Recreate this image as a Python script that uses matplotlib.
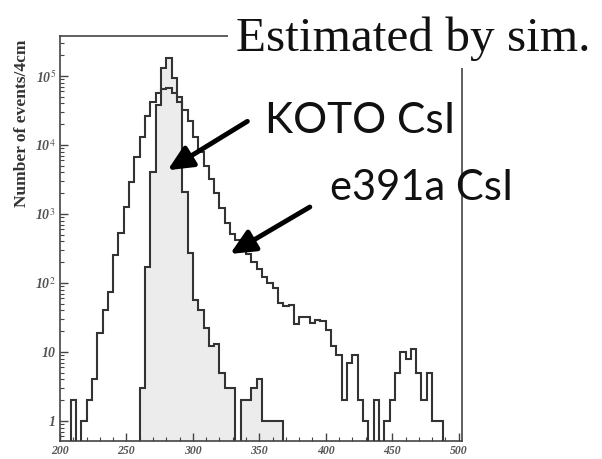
import numpy as np
import matplotlib
matplotlib.use("Agg")
import matplotlib.pyplot as plt
from matplotlib.patches import Rectangle
from matplotlib.ticker import FixedLocator, MultipleLocator, LogLocator, NullFormatter

# bin edges: 4 cm bins from 200 to 500
bin_width = 4
bin_edges = np.arange(200, 500 + bin_width, bin_width)

# e391a CsI (open histogram), counts per bin starting at 200
e391a_counts = [
    0, 0, 2, 0, 1, 2, 4, 19, 40, 75,
    250, 530, 1280, 2900, 6600, 13000, 26000, 42000, 56000, 64000,
    66000, 56000, 42000, 32000, 22000, 13000, 8000, 5000, 3200, 2000,
    1200, 740, 520, 420, 320, 260, 200, 160, 120, 100,
    83, 51, 46, 48, 25, 32, 32, 26, 29, 28,
    21, 12, 9, 2, 7, 9, 2, 1, 0, 2,
    0, 1, 2, 5, 10, 8, 11, 5, 2, 5,
    1, 1, 0, 0, 0,
]

# KOTO CsI (shaded histogram)
koto_counts = [
    0, 0, 0, 0, 0, 0, 0, 0, 0, 0,
    0, 0, 0, 0, 0, 3, 170, 4000, 38000, 130000,
    185000, 95000, 50000, 2100, 270, 56, 41, 22, 12, 13,
    5, 3, 3, 0, 2, 2, 3, 4, 1, 1,
    1, 1, 0, 0, 0, 0, 0, 0, 0, 0,
    0, 0, 0, 0, 0, 0, 0, 0, 0, 0,
    0, 0, 0, 0, 0, 0, 0, 0, 0, 0,
    0, 0, 0, 0, 0,
]

ytick_vals = [1, 10, 1e2, 1e3, 1e4, 1e5]
ytick_labels = ['1', '10', '10$^{2}$', '10$^{3}$', '10$^{4}$', '10$^{5}$']
xtick_vals = [200, 250, 300, 350, 400, 450, 500]

plt.rcParams['mathtext.fontset'] = 'stix'

fig = plt.figure(figsize=(6.02, 4.59), dpi=100)
ax = fig.add_axes([60 / 602, 1 - 441 / 459, 402 / 602, 405 / 459])

floor = 0.2
e391a = np.clip(np.array(e391a_counts, dtype=float), floor, None)
koto = np.clip(np.array(koto_counts, dtype=float), floor, None)

line_col = '#333333'
ax.stairs(koto, bin_edges, baseline=floor, fill=True, color='#ececec', zorder=1)
ax.stairs(koto, bin_edges, baseline=floor, color=line_col, lw=1.5, zorder=2)
ax.stairs(e391a, bin_edges, baseline=floor, color=line_col, lw=1.5, zorder=3)

ax.set_yscale('log')
ax.set_ylim(0.51, 3.8e5)
ax.set_xlim(200, 502.5)

ax.yaxis.set_major_locator(FixedLocator(ytick_vals))
ax.set_yticklabels(ytick_labels, fontfamily='Liberation Serif', fontstyle='italic',
                   fontweight='bold', fontsize=10, color='#555555')
ax.yaxis.set_minor_locator(LogLocator(base=10, subs=np.arange(2, 10)))
ax.yaxis.set_minor_formatter(NullFormatter())

ax.set_xticks(xtick_vals)
ax.set_xticklabels([str(v) for v in xtick_vals], fontfamily='Liberation Serif',
                   fontstyle='italic', fontweight='bold', fontsize=8.5, color='#555555')
ax.xaxis.set_minor_locator(MultipleLocator(10))

ax.tick_params(which='major', direction='in', length=6, width=1, color='#444444')
ax.tick_params(which='minor', direction='in', length=3, width=0.8, color='#444444')
ax.tick_params(axis='x', pad=3)
ax.tick_params(axis='y', pad=3)

for s in ax.spines.values():
    s.set_color('#444444')
    s.set_linewidth(1.2)

ax.set_ylabel('Number of events/4cm', fontfamily='Liberation Serif', fontweight='bold',
              fontsize=12.5, color='#333333')
ax.yaxis.set_label_coords(-0.074, 0.785)

# arrows
arrow = dict(arrowstyle='-|>,head_length=0.75,head_width=0.35', color='black', lw=3.5,
             mutation_scale=20, shrinkA=0, shrinkB=0)
ax.annotate('', xy=(281, 4300), xytext=(341, 22000), arrowprops=arrow, zorder=6)
ax.annotate('', xy=(328, 263), xytext=(388, 1260), arrowprops=arrow, zorder=6)

# white patch hiding the top-right corner of the frame
fig.add_artist(Rectangle((228 / 602, 1 - 68 / 459), 1, 68 / 459, transform=fig.transFigure,
                         facecolor='white', edgecolor='none', zorder=5))

fig.text(236 / 602, 1 - 51 / 459, 'Estimated by sim.', fontfamily='Liberation Serif',
         fontsize=35.5, va='baseline', ha='left', color='#111111', zorder=6)
fig.text(265 / 602, 1 - 133 / 459, 'KOTO CsI', fontfamily='Lato', fontsize=30.5,
         va='baseline', ha='left', color='#111111', zorder=6)
fig.text(330 / 602, 1 - 200 / 459, 'e391a CsI', fontfamily='Lato', fontsize=30,
         va='baseline', ha='left', color='#111111', zorder=6)

fig.savefig('out.png', dpi=100)
